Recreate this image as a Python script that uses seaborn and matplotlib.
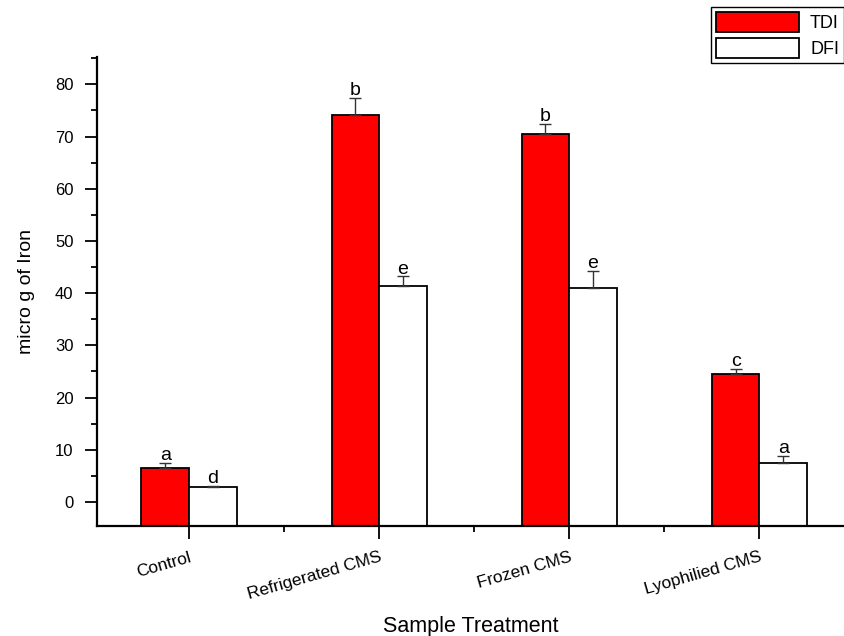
# Iron content per sample treatment (TDI vs DFI), Origin-style grouped bars
import matplotlib
matplotlib.use("Agg")
import matplotlib.pyplot as plt
from matplotlib.ticker import MultipleLocator, FixedLocator
import seaborn as sns
import pandas as pd
import numpy as np

# data
groups = ["Control", "Refrigerated CMS", "Frozen CMS", "Lyophilied CMS"]
series = ["TDI", "DFI"]
tdi = [6.6, 74.2, 70.5, 24.6]
tdi_err = [0.9, 3.2, 2.0, 0.8]
dfi = [2.9, 41.3, 41.0, 7.5]
dfi_err = [0.25, 1.9, 3.2, 1.4]
tdi_letters = ["a", "b", "b", "c"]
dfi_letters = ["d", "e", "e", "a"]

df = pd.DataFrame({
    "group": groups * 2,
    "series": ["TDI"] * len(groups) + ["DFI"] * len(groups),
    "value": tdi + dfi,
})

sns.set_style("ticks")
plt.rcParams["font.family"] = ["Liberation Sans", "DejaVu Sans"]
for k in ["text.color", "axes.labelcolor", "xtick.color", "ytick.color", "axes.edgecolor"]:
    plt.rcParams[k] = "black"

fig = plt.figure(figsize=(8.45, 6.36), dpi=100)
ax = fig.add_axes([0.115, 0.173, 0.884, 0.737])

ybot, ytop = -4.6, 85.2

sns.barplot(data=df, x="group", y="value", hue="series", hue_order=series,
            order=groups, palette=["#ff0000", "#ffffff"], saturation=1,
            width=0.5, edgecolor="black", linewidth=1.3, errorbar=None, ax=ax)

# Origin draws bars up from the bottom of the axis, not from zero
for cont, vals, errs, letters in zip(ax.containers, [tdi, dfi], [tdi_err, dfi_err],
                                     [tdi_letters, dfi_letters]):
    for b, v in zip(cont, vals):
        b.set_y(ybot)
        b.set_height(v - ybot)
    xs = [b.get_x() + b.get_width() / 2 for b in cont]
    ax.errorbar(xs, vals, yerr=[np.zeros(len(errs)), errs], fmt="none",
                ecolor="#333333", elinewidth=1, capsize=4.5, capthick=1)
    for x, v, e, t in zip(xs, vals, errs, letters):
        ax.text(x, v + e - 0.2, t, ha="center", va="bottom", fontsize=14)

ax.set_xlim(-0.483, 3.446)
ax.set_ylim(ybot, ytop)
ax.yaxis.set_major_locator(MultipleLocator(10))
ax.yaxis.set_minor_locator(MultipleLocator(5))
ax.set_yticks(range(0, 81, 10))
ax.xaxis.set_minor_locator(FixedLocator([0.5, 1.5, 2.5]))
ax.tick_params(axis="both", which="major", length=9, width=1.3, labelsize=12)
ax.tick_params(axis="both", which="minor", length=4.5, width=1.3)
ax.tick_params(axis="y", pad=8)
ax.tick_params(axis="x", pad=8)
plt.setp(ax.get_xticklabels(), rotation=16, ha="right", rotation_mode="anchor",
         fontsize=12.5)

sns.despine(ax=ax)
for s in ["left", "bottom"]:
    ax.spines[s].set_linewidth(1.6)

ax.set_ylabel("micro g of Iron", fontsize=14, labelpad=14)
ax.set_xlabel("Sample Treatment", fontsize=15.5, labelpad=10)

h, l = ax.get_legend_handles_labels()
ax.legend(h, l, loc="upper right", bbox_to_anchor=(0.999, 0.989),
          bbox_transform=fig.transFigure, borderaxespad=0, fancybox=False,
          edgecolor="black", framealpha=1, handlelength=4.6, handleheight=1.3,
          labelspacing=0.35, handletextpad=0.6, borderpad=0.28, fontsize=13)
ax.get_legend().get_frame().set_linewidth(1)

fig.savefig("out.png", dpi=100)
